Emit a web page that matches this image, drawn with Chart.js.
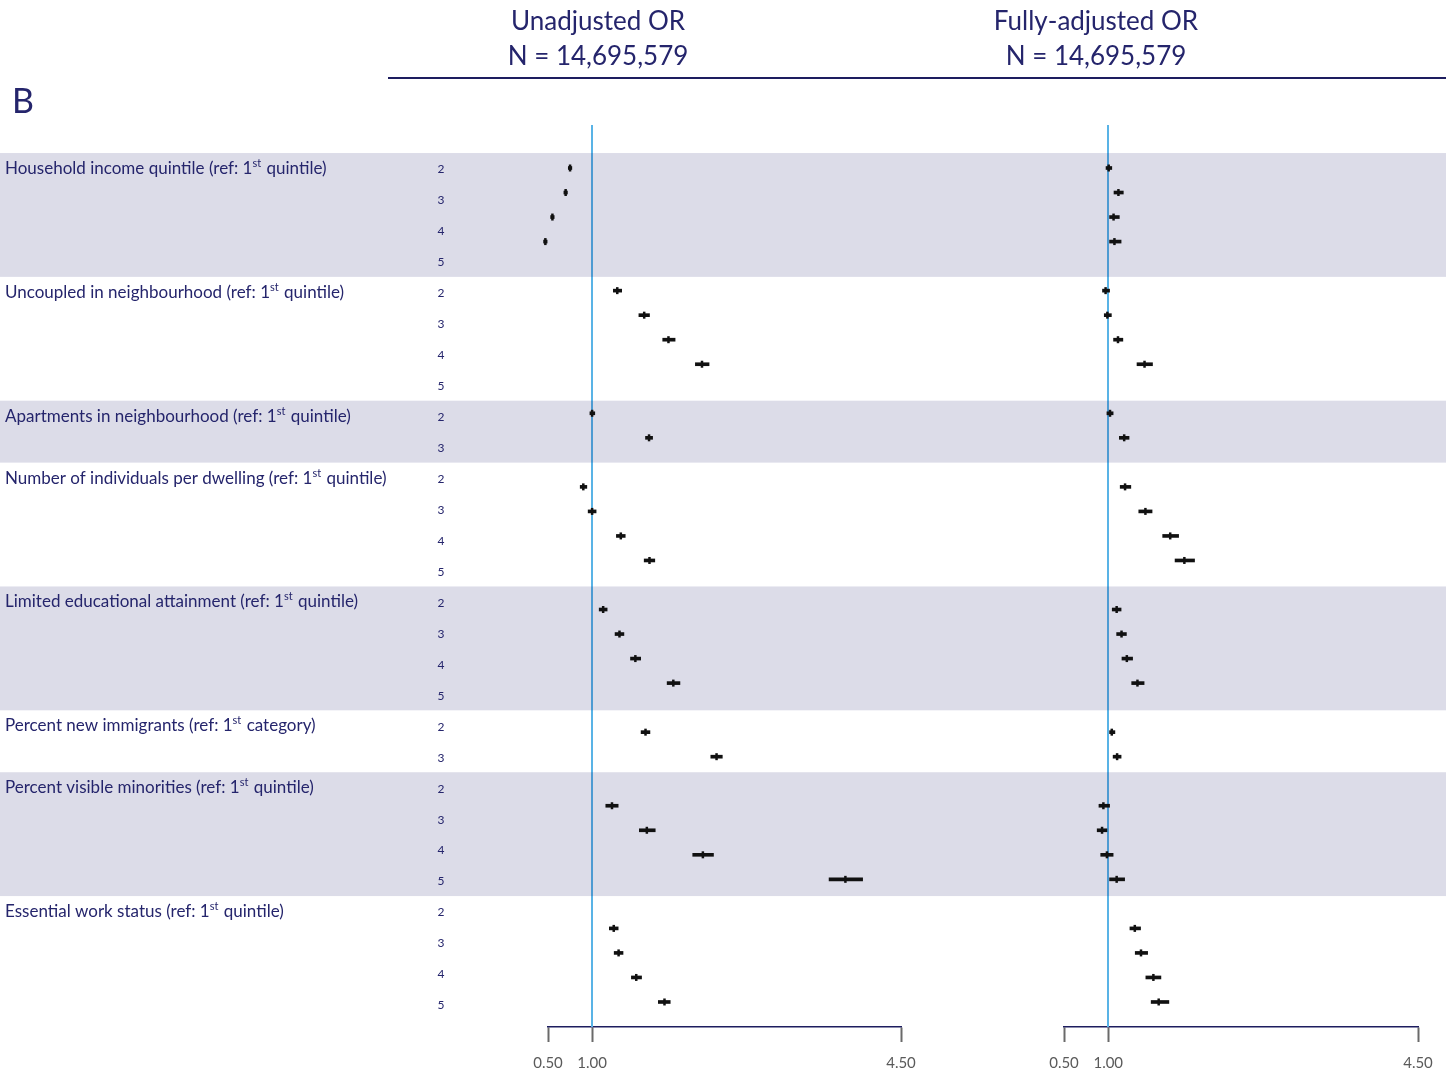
<!DOCTYPE html>
<html>
<head>
<meta charset="utf-8">
<script src="https://cdn.jsdelivr.net/npm/chart.js@4/dist/chart.umd.min.js"></script>
<style>
  html, body { margin: 0; padding: 0; background: #fff; }
  #wrap { position: relative; width: 1446px; height: 1074px; overflow: hidden;
          font-family: 'Lato', 'Open Sans', sans-serif; color: #25256c; }
  canvas { position: absolute; top: 0; }
  .head { position: absolute; top: 3px; width: 400px; text-align: center;
          font-size: 26px; line-height: 35px; }
  #rule { position: absolute; left: 388px; top: 77px; width: 1058px; height: 2px; background: #1d1d5f; }
  #panel { position: absolute; left: 12px; top: 80px; font-size: 34px; line-height: 40px; }
</style>
</head>
<body>
<div id="wrap">
  <canvas id="orLeft" width="985" height="1074" style="left:0"></canvas>
  <canvas id="orRight" width="461" height="1074" style="left:985px"></canvas>
  <div class="head" style="left:398px">Unadjusted OR<br>N = 14,695,579</div>
  <div class="head" style="left:896px">Fully-adjusted OR<br>N = 14,695,579</div>
  <div id="rule"></div>
  <div id="panel">B</div>
</div>
<script>
// Exposure groups (superscript text in braces) and their category levels
const groups = [
  "Household income quintile (ref: 1{st} quintile)",
  "Uncoupled in neighbourhood (ref: 1{st} quintile)",
  "Apartments in neighbourhood (ref: 1{st} quintile)",
  "Number of individuals per dwelling (ref: 1{st} quintile)",
  "Limited educational attainment (ref: 1{st} quintile)",
  "Percent new immigrants (ref: 1{st} category)",
  "Percent visible minorities (ref: 1{st} quintile)",
  "Essential work status (ref: 1{st} quintile)"
];
const levels = [
  ["2", "3", "4", "5"],
  ["2", "3", "4", "5"],
  ["2", "3"],
  ["2", "3", "4", "5"],
  ["2", "3", "4", "5"],
  ["2", "3"],
  ["2", "3", "4", "5"],
  ["2", "3", "4", "5"]
];

// Unadjusted odds ratios with 95% CI, one entry per level, in group order
const unadjOR = [0.75, 0.70, 0.55, 0.47,  1.285, 1.59, 1.865, 2.245,  1.00, 1.645,
                 0.90, 1.00, 1.325, 1.65,  1.125, 1.31, 1.49, 1.92,  1.605, 2.41,
                 1.225, 1.62, 2.255, 3.87,  1.245, 1.30, 1.50, 1.82];
const unadjLo = [0.73, 0.68, 0.53, 0.45,  1.24, 1.53, 1.80, 2.17,  0.975, 1.605,
                 0.865, 0.955, 1.275, 1.59,  1.08, 1.26, 1.435, 1.85,  1.555, 2.345,
                 1.155, 1.535, 2.14, 3.685,  1.195, 1.25, 1.445, 1.75];
const unadjHi = [0.77, 0.72, 0.57, 0.49,  1.335, 1.65, 1.94, 2.325,  1.03, 1.685,
                 0.94, 1.045, 1.375, 1.71,  1.17, 1.36, 1.55, 1.995,  1.655, 2.475,
                 1.295, 1.715, 2.375, 4.065,  1.295, 1.35, 1.56, 1.885];

// Fully-adjusted odds ratios with 95% CI
const adjOR = [1.005, 1.115, 1.06, 1.07,  0.97, 0.99, 1.11, 1.41,  1.02, 1.18,
               1.19, 1.42, 1.70, 1.86,  1.095, 1.15, 1.21, 1.33,  1.04, 1.10,
               0.945, 0.93, 0.985, 1.095,  1.30, 1.37, 1.51, 1.57];
const adjLo = [0.975, 1.065, 1.015, 1.015,  0.935, 0.955, 1.06, 1.325,  0.985, 1.125,
               1.135, 1.345, 1.615, 1.755,  1.045, 1.095, 1.155, 1.265,  1.015, 1.055,
               0.895, 0.875, 0.915, 1.015,  1.245, 1.305, 1.425, 1.485];
const adjHi = [1.04, 1.17, 1.125, 1.145,  1.015, 1.035, 1.165, 1.50,  1.055, 1.235,
               1.255, 1.495, 1.795, 1.975,  1.145, 1.205, 1.275, 1.405,  1.075, 1.145,
               1.015, 0.985, 1.055, 1.185,  1.365, 1.445, 1.595, 1.685];

const xTicks = [0.5, 1.0, 4.5];

// ---- layout helpers ----
const NAVY = '#25256c';
// plot rows: one slot per level plus an empty slot after each group
const rowSlot = [];
levels.forEach((lv, g) => lv.forEach(() => rowSlot.push(rowSlot.length + g)));
const totalRows = rowSlot.length;
// the label table spans this slot range, split into equal rows
const tableTop = -0.61, tableBottom = 34.73;
const rowEdge = r => tableTop + r * (tableBottom - tableTop) / totalRows;

function drawRich(ctx, text, x, y, size) {
  const parts = text.split(/\{(.*?)\}/);
  let cx = x;
  parts.forEach((p, i) => {
    const sup = i % 2 === 1;
    ctx.font = (sup ? Math.round(size * 0.62) : size) + 'px Lato, "Open Sans", sans-serif';
    ctx.fillText(p, cx, sup ? y - size * 0.3 : y);
    cx += ctx.measureText(p).width + (sup ? 1 : 0);
  });
}

const backdrop = {
  id: 'backdrop',
  beforeDatasetsDraw(chart) {
    const { ctx, chartArea: a, scales: { x, y } } = chart;
    ctx.save();
    // reference line at OR = 1
    const px = Math.round(x.getPixelForValue(1));
    ctx.strokeStyle = '#59b3e6';
    ctx.lineWidth = 2;
    ctx.beginPath(); ctx.moveTo(px, a.top); ctx.lineTo(px, a.bottom); ctx.stroke();
    // alternating group bands
    let r = 0;
    levels.forEach((lv, g) => {
      if (g % 2 === 0) {
        const t = y.getPixelForValue(rowEdge(r));
        const b = y.getPixelForValue(rowEdge(r + lv.length));
        ctx.fillStyle = 'rgba(22,22,102,0.15)';
        ctx.fillRect(0, t, chart.width, b - t);
      }
      r += lv.length;
    });
    ctx.restore();
  }
};

const labelTable = {
  id: 'labelTable',
  afterDatasetsDraw(chart) {
    const { ctx, scales: { y } } = chart;
    ctx.save();
    ctx.fillStyle = NAVY;
    ctx.textBaseline = 'middle';
    let r = 0;
    levels.forEach((lv, g) => {
      const rowY = i => y.getPixelForValue((rowEdge(r + i) + rowEdge(r + i + 1)) / 2);
      ctx.textAlign = 'left';
      drawRich(ctx, groups[g], 5, rowY(0), 17);
      ctx.textAlign = 'center';
      ctx.font = '12px Lato, "Open Sans", sans-serif';
      lv.forEach((name, i) => ctx.fillText(name, 441, rowY(i) + 1));
      r += lv.length;
    });
    ctx.restore();
  }
};

function makePanel(id, est, lo, hi, padLeft, padRight, extraPlugins) {
  const ci = est.map((v, i) => ({ y: rowSlot[i], x: [lo[i], hi[i]] }));
  const pts = est.map((v, i) => ({ x: v, y: rowSlot[i] }));
  return new Chart(document.getElementById(id), {
    type: 'bar',
    data: {
      datasets: [
        { type: 'bar', indexAxis: 'y', data: ci, backgroundColor: '#111', borderWidth: 0,
          barThickness: 3, clip: false, order: 2 },
        { type: 'scatter', data: pts, pointStyle: 'line', pointRotation: 90, pointRadius: 3.5,
          pointBorderWidth: 2.5, pointBorderColor: '#111', pointBackgroundColor: '#111',
          clip: false, order: 1 }
      ]
    },
    options: {
      responsive: false,
      animation: false,
      events: [],
      layout: { padding: { top: 125, bottom: 0, left: padLeft, right: padRight } },
      scales: {
        x: {
          type: 'linear', min: 0.5, max: 4.5, offset: false,
          afterBuildTicks: s => { s.ticks = xTicks.map(v => ({ value: v })); },
          afterFit: s => { s.height = 47; },
          grid: { offset: false, drawOnChartArea: false, drawTicks: true, tickLength: 15,
                  tickWidth: 2, tickColor: '#6a6a6a' },
          border: { display: true, color: '#1d1d5f', width: 1.5 },
          ticks: { padding: 12, color: '#5a5a5a', autoSkip: false, maxRotation: 0,
                   font: { family: 'Lato', size: 15 }, callback: v => Number(v).toFixed(2) }
        },
        y: { type: 'linear', display: false, reverse: true, offset: false,
             grid: { offset: false }, min: -1.753, max: 35.02 }
      },
      plugins: { legend: { display: false }, tooltip: { enabled: false } }
    },
    plugins: [backdrop].concat(extraPlugins)
  });
}

makePanel('orLeft', unadjOR, unadjLo, unadjHi, 548, 985 - 901, [labelTable]);
makePanel('orRight', adjOR, adjLo, adjHi, 1064 - 985, 461 - 433, []);
</script>
</body>
</html>
